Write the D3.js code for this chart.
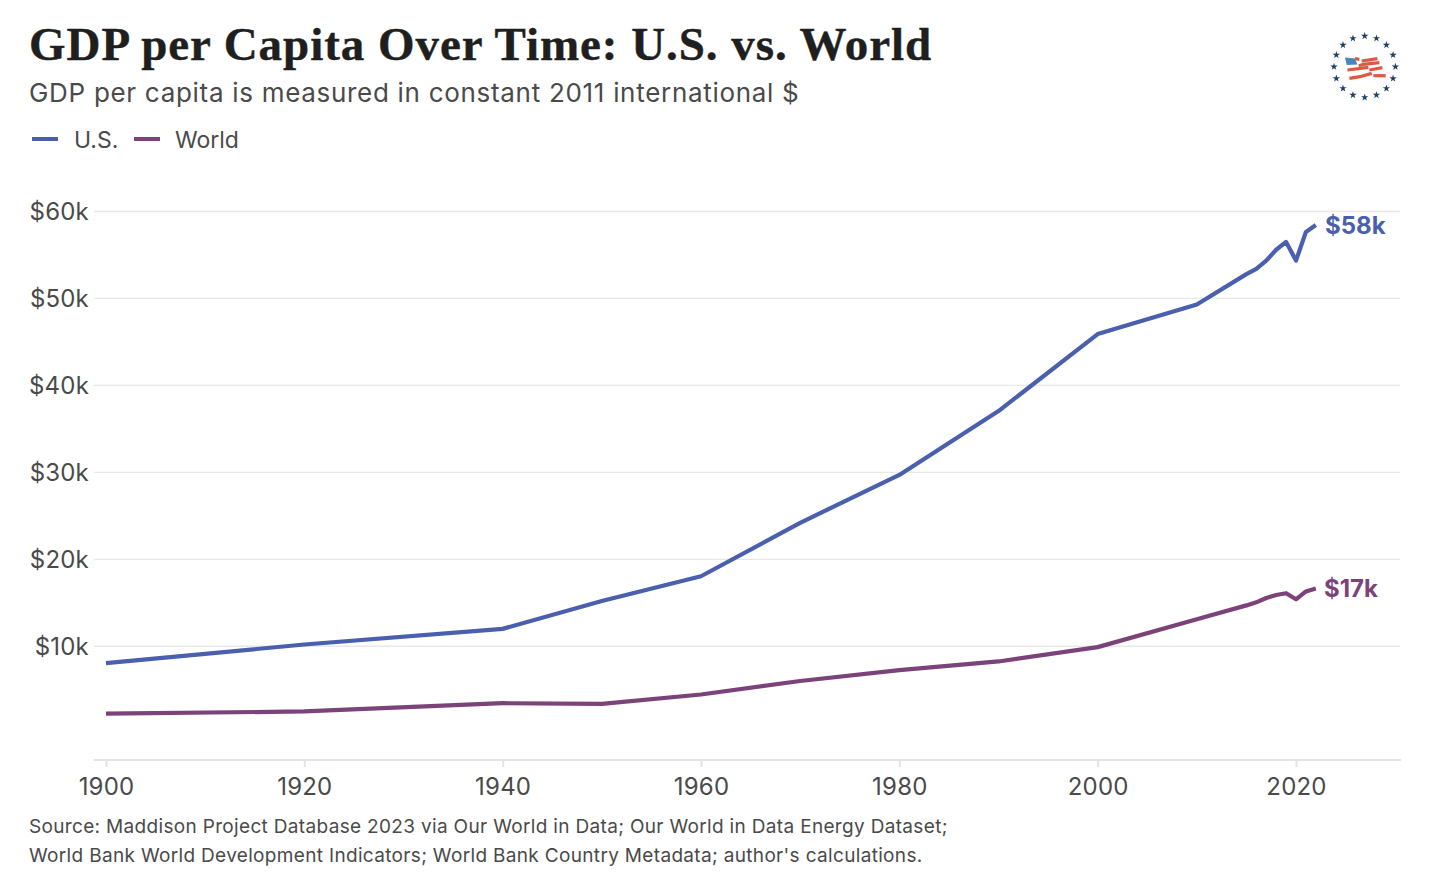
<!DOCTYPE html>
<html>
<head>
<meta charset="utf-8">
<script src="https://cdn.jsdelivr.net/npm/d3@7"></script>
<style>
html,body{margin:0;padding:0;background:#fff;overflow:hidden}
text{font-family:Inter,sans-serif}
</style>
</head>
<body>
<svg id="chart" width="1429" height="885"></svg>
<script>
const years = [1900,1920,1940,1950,1960,1970,1980,1990,2000,2010,2015,2016,2017,2018,2019,2020,2021,2022];
const usValues = [8.05,10.2,12.0,15.2,18.05,24.2,29.7,37.05,45.9,49.3,52.8,53.4,54.35,55.6,56.5,54.35,57.65,58.45];
const worldValues = [2.24,2.5,3.45,3.37,4.45,6.0,7.25,8.25,9.9,13.1,14.7,15.05,15.55,15.9,16.1,15.4,16.3,16.65];
const seriesNames = ["U.S.","World"];
const seriesColors = ["#4a5fae","#7b4379"];
const endLabels = ["$58k","$17k"];
const yTicks = [10,20,30,40,50,60];
const xTicks = [1900,1920,1940,1960,1980,2000,2020];
const titleText = "GDP per Capita Over Time: U.S. vs. World";
const subtitleText = "GDP per capita is measured in constant 2011 international $";
const sourceLines = [
  "Source: Maddison Project Database 2023 via Our World in Data; Our World in Data Energy Dataset;",
  "World Bank World Development Indicators; World Bank Country Metadata; author's calculations."
];

const svg = d3.select("#chart");
const ink = "#4a4a4a";

const x = d3.scaleLinear().domain([1900,2020]).range([106,1296]);
const y = d3.scaleLinear().domain([0,60]).range([733.2,211.5]);
const axisY = 760;

svg.append("text").attr("x",29).attr("y",60)
  .style("font-family","'Liberation Serif',serif").style("font-weight",700)
  .style("font-size","47px").style("letter-spacing","0.95px")
  .attr("fill","#1f1f1f").attr("stroke","#1f1f1f").attr("stroke-width",0.4).text(titleText);
svg.append("text").attr("x",29).attr("y",102)
  .style("font-size","26px").style("letter-spacing","0.7px").attr("fill",ink).text(subtitleText);

// Legend keys and names
const legendX = [[32,58,74],[134,160,175]];
seriesNames.forEach((name,i)=>{
  svg.append("line").attr("x1",legendX[i][0]).attr("x2",legendX[i][1]).attr("y1",139).attr("y2",139)
    .attr("stroke",seriesColors[i]).attr("stroke-width",4);
  svg.append("text").attr("x",legendX[i][2]).attr("y",147.5)
    .style("font-size","23px").attr("fill",ink).text(name);
});

// Horizontal grid and value labels
const yAxis = d3.axisLeft(y).tickValues(yTicks).tickFormat(d=>`$${d}k`).tickSize(0).tickPadding(0);
const gy = svg.append("g").attr("transform","translate(89,0.5)").call(yAxis);
gy.select(".domain").remove();
gy.selectAll("text").style("font-family","Inter,sans-serif").style("font-size","24px")
  .style("letter-spacing","0.2px").attr("fill",ink);
svg.append("g").selectAll("line").data(yTicks).join("line")
  .attr("x1",94).attr("x2",1400).attr("y1",d=>y(d)).attr("y2",d=>y(d))
  .attr("stroke","#e8e8e8").attr("stroke-width",1.3);

// Year axis
const xAxis = d3.axisBottom(x).tickValues(xTicks).tickFormat(d3.format("d")).tickSize(7).tickPadding(11);
const gx = svg.append("g").attr("transform",`translate(0,${axisY})`).call(xAxis);
gx.select(".domain").attr("d","M94,0H1401").attr("stroke","#e3e3e3").attr("stroke-width",2);
gx.selectAll("line").attr("stroke","#e3e3e3").attr("stroke-width",2);
gx.selectAll("text").style("font-family","Inter,sans-serif").style("font-size","24px")
  .style("letter-spacing","0.2px").attr("fill",ink);

// Series lines and closing value labels
const line = d3.line().x((d,i)=>x(years[i])).y(d=>y(d));
[usValues,worldValues].forEach((vals,i)=>{
  svg.append("path").attr("d",line(vals)).attr("fill","none")
    .attr("stroke",seriesColors[i]).attr("stroke-width",4.2).attr("stroke-linejoin","round");
});
svg.append("text").attr("x",1325).attr("y",233.5).style("font-size","24px").style("font-weight",700)
  .attr("fill",seriesColors[0]).text(endLabels[0]);
svg.append("text").attr("x",1324).attr("y",597).style("font-size","24px").style("font-weight",700)
  .attr("fill",seriesColors[1]).text(endLabels[1]);

// Source note
sourceLines.forEach((t,i)=>{
  svg.append("text").attr("x",29).attr("y",833+i*28.5)
    .style("font-size","19px").style("letter-spacing","0.33px").attr("fill",ink).text(t);
});

// Emblem: ring of stars around a waving flag
const emblem = svg.append("g").attr("transform","translate(1364.7,66.7)");
const starCount = 16, starRadius = 30.7;
const star = d3.symbol().type(d3.symbolStar).size(17);
d3.range(starCount).forEach(k=>{
  const a = 2*Math.PI*k/starCount;
  emblem.append("path").attr("d",star)
    .attr("transform",`translate(${starRadius*Math.sin(a)},${-starRadius*Math.cos(a)})`)
    .attr("fill","#1d3f66");
});
const flagStripes = [
  "M-9.7,-8 L-5.3,-7.3",
  "M-3,-5.7 L12.7,-8",
  "M-6,-1 L-1.3,-2.3 L14.7,-4",
  "M-17.3,3.3 L3.7,0.7",
  "M4.7,3.3 L17.7,1",
  "M-15.3,11.7 L-4.7,10 L7,6.7",
  "M8.7,9 L21,9"
];
flagStripes.forEach(d=>{
  emblem.append("path").attr("d",d).attr("fill","none").attr("stroke","#dc5a43").attr("stroke-width",3.2);
});
emblem.append("path").attr("d","M-19.7,-9.3 L-9.7,-8.3 L-7.3,-2.3 L-18,-1.7 Z").attr("fill","#4a86bd");
</script>
</body>
</html>
